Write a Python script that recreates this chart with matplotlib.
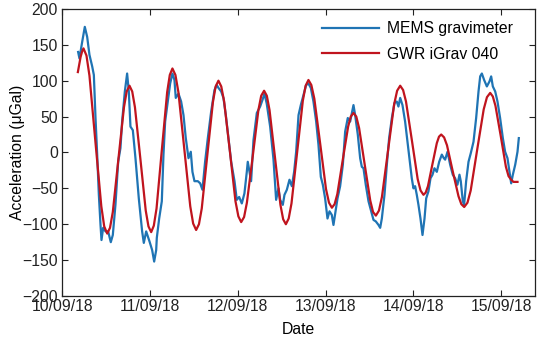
import pandas as pd
import matplotlib
matplotlib.use("Agg")
import matplotlib.pyplot as plt
import matplotlib.dates as mdates

plt.rcParams['font.family'] = ['Liberation Sans', 'DejaVu Sans']
plt.rcParams['font.size'] = 11.3

START = pd.Timestamp("2018-09-10")

# MEMS gravimeter, time in days after 10/09/18 00:00, acceleration in uGal
mems_days = [
    0.182, 0.197, 0.228, 0.258, 0.285, 0.311, 0.342, 0.361, 0.380, 0.399,
    0.418, 0.437, 0.448, 0.467, 0.494, 0.524, 0.554, 0.577, 0.607, 0.638,
    0.664, 0.683, 0.714, 0.740, 0.759, 0.778, 0.805, 0.835, 0.873, 0.911,
    0.930, 0.957, 0.995, 1.025, 1.048, 1.071, 1.078, 1.105, 1.135, 1.154,
    1.173, 1.203, 1.230, 1.256, 1.279, 1.294, 1.325, 1.355, 1.382, 1.408,
    1.439, 1.465, 1.484, 1.507, 1.545, 1.572, 1.598, 1.628, 1.659, 1.697,
    1.735, 1.761, 1.780, 1.811, 1.837, 1.864, 1.894, 1.925, 1.963, 1.989,
    2.016, 2.046, 2.076, 2.103, 2.114, 2.130, 2.152, 2.179, 2.217, 2.255,
    2.281, 2.304, 2.330, 2.369, 2.407, 2.437, 2.464, 2.483, 2.513, 2.532,
    2.559, 2.589, 2.616, 2.642, 2.665, 2.692, 2.718, 2.749, 2.779, 2.805,
    2.832, 2.862, 2.893, 2.919, 2.946, 2.969, 2.995, 3.022, 3.045, 3.071,
    3.090, 3.113, 3.136, 3.166, 3.197, 3.223, 3.253, 3.280, 3.318, 3.337,
    3.367, 3.394, 3.413, 3.432, 3.458, 3.489, 3.519, 3.546, 3.572, 3.603,
    3.622, 3.641, 3.671, 3.698, 3.724, 3.755, 3.785, 3.811, 3.830, 3.850,
    3.876, 3.906, 3.937, 3.963, 3.982, 4.001, 4.020, 4.039, 4.058, 4.081,
    4.104, 4.127, 4.146, 4.172, 4.195, 4.218, 4.240, 4.267, 4.294, 4.324,
    4.347, 4.362, 4.389, 4.419, 4.449, 4.476, 4.502, 4.525, 4.540, 4.563,
    4.578, 4.601, 4.628, 4.654, 4.685, 4.715, 4.742, 4.761, 4.780, 4.806,
    4.837, 4.867, 4.886, 4.905, 4.932, 4.958, 4.988, 5.019, 5.045, 5.072,
    5.095, 5.114, 5.133, 5.160, 5.186, 5.201,
]
mems_vals = [
    140, 131, 154, 175, 161, 136, 120, 108, 48, -3,
    -59, -101, -122, -105, -110, -110, -125, -115, -73, -13,
    6, 43, 85, 110, 85, 36, 31, -8, -64, -110,
    -126, -110, -124, -136, -152, -136, -119, -92, -68, -3,
    43, 71, 96, 110, 101, 76, 82, 71, 52, 20,
    -8, 1, -27, -40, -40, -43, -52, -13, 20, 57,
    87, 94, 90, 85, 76, 52, 20, -13, -40, -66,
    -62, -71, -57, -27, -13, -24, -40, 17, 55, 64,
    73, 82, 68, 36, -10, -66, -50, -66, -73, -59,
    -52, -38, -47, -27, 1, 52, 66, 80, 94, 96,
    90, 71, 43, 11, -34, -45, -64, -92, -82, -87,
    -101, -82, -64, -47, -17, 29, 48, 43, 66, 52,
    25, -8, -20, -22, -45, -68, -82, -94, -96, -101,
    -105, -92, -59, -17, 20, 48, 69, 71, 64, 76,
    66, 43, 11, -17, -36, -50, -47, -59, -73, -92,
    -115, -92, -64, -54, -36, -31, -22, -27, -13, -3,
    -8, -10, 1, -17, -31, -36, -45, -31, -40, -68,
    -73, -40, -13, -1, 15, 48, 85, 106, 110, 101,
    92, 99, 106, 92, 85, 71, 48, 20, 1, -8,
    -27, -43, -31, -17, 1, 20,
]

# GWR iGrav 040 superconducting gravimeter
gwr_days = [
    0.179, 0.210, 0.228, 0.243, 0.277, 0.311, 0.378, 0.446, 0.479, 0.513,
    0.545, 0.577, 0.640, 0.704, 0.735, 0.767, 0.798, 0.829, 0.891, 0.952,
    0.983, 1.014, 1.044, 1.075, 1.135, 1.196, 1.226, 1.256, 1.290, 1.324,
    1.391, 1.459, 1.492, 1.526, 1.558, 1.590, 1.653, 1.717, 1.748, 1.780,
    1.812, 1.845, 1.910, 1.974, 2.007, 2.039, 2.072, 2.104, 2.170, 2.235,
    2.267, 2.300, 2.331, 2.362, 2.424, 2.486, 2.517, 2.548, 2.580, 2.612,
    2.677, 2.741, 2.773, 2.805, 2.838, 2.872, 2.939, 3.005, 3.039, 3.072,
    3.103, 3.134, 3.195, 3.257, 3.287, 3.318, 3.350, 3.382, 3.446, 3.509,
    3.541, 3.573, 3.608, 3.642, 3.712, 3.781, 3.815, 3.850, 3.883, 3.916,
    3.983, 4.049, 4.082, 4.115, 4.140, 4.166, 4.216, 4.267, 4.292, 4.317,
    4.350, 4.383, 4.448, 4.514, 4.546, 4.579, 4.616, 4.653, 4.727, 4.801,
    4.838, 4.875, 4.905, 4.935, 4.995, 5.054, 5.084, 5.114, 5.140, 5.186,
]
gwr_vals = [
    112, 133, 141, 145, 135, 107, 16, -75, -103, -113,
    -105, -83, -10, 63, 85, 93, 85, 63, -9, -81,
    -103, -111, -102, -78, 3, 84, 108, 117, 108, 84,
    5, -75, -99, -108, -100, -78, -4, 70, 92, 100,
    92, 71, 2, -68, -89, -97, -90, -70, -6, 59,
    79, 86, 79, 59, -7, -73, -93, -100, -92, -71,
    1, 72, 93, 101, 94, 75, 12, -51, -70, -77,
    -72, -58, -11, 36, 50, 55, 50, 34, -17, -67,
    -83, -88, -81, -62, 3, 67, 86, 93, 87, 71,
    17, -37, -53, -59, -56, -47, -17, 13, 22, 25,
    21, 10, -26, -61, -72, -76, -70, -53, 4, 60,
    77, 83, 78, 65, 23, -20, -33, -38, -41, -41,
]

mems_time = START + pd.to_timedelta(mems_days, unit="D")
gwr_time = START + pd.to_timedelta(gwr_days, unit="D")

fig, ax = plt.subplots(figsize=(5.5, 3.43), dpi=100)
fig.subplots_adjust(left=0.113, right=0.973, bottom=0.137, top=0.974)

ax.plot(mems_time, mems_vals, color="#1f74b4", linewidth=1.6, label="MEMS gravimeter")
ax.plot(gwr_time, gwr_vals, color="#c0141e", linewidth=1.6, label="GWR iGrav 040")

ax.set_xlim(START, START + pd.Timedelta(days=5.387))
ax.set_ylim(-200, 200)
ax.set_yticks(range(-200, 201, 50))
ax.xaxis.set_major_locator(mdates.DayLocator())
ax.xaxis.set_major_formatter(mdates.DateFormatter("%d/%m/%y"))

ax.tick_params(direction="in", top=True, right=True, length=4, width=0.8, colors="#222222")
ax.tick_params(axis="x", pad=2)
ax.tick_params(axis="y", pad=3)
for s in ax.spines.values():
    s.set_linewidth(0.9)
    s.set_color("#222222")

ax.set_xlabel("Date", labelpad=6)
ax.set_ylabel("Acceleration (μGal)", labelpad=-2)

ax.legend(loc="upper right", bbox_to_anchor=(0.979, 1.0), frameon=False,
          handlelength=3.6, handletextpad=0.5, borderaxespad=0.4, labelspacing=0.65)

fig.savefig("out.png", dpi=100)
